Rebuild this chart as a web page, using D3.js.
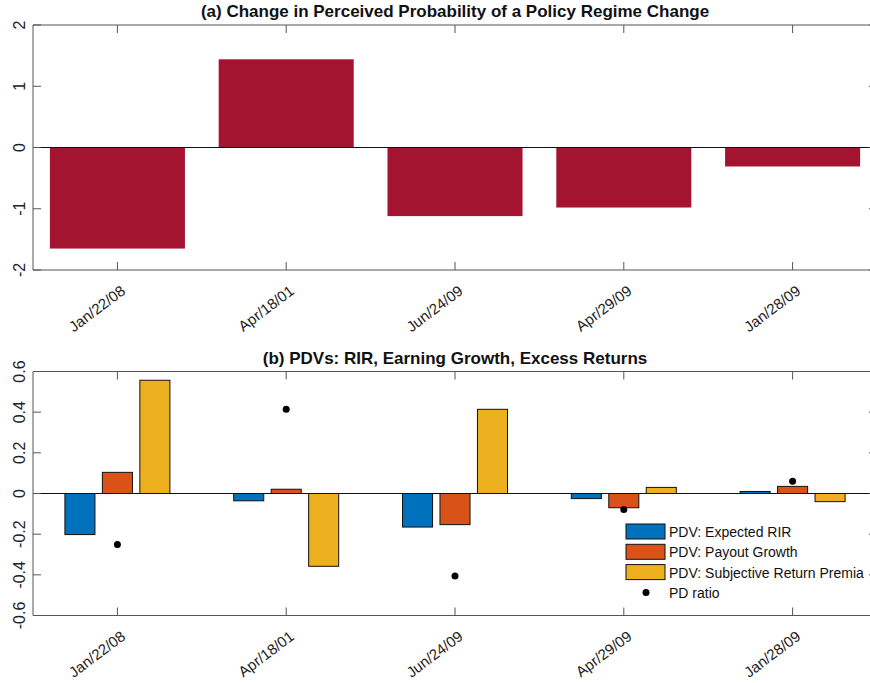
<html>
<head>
<meta charset="utf-8">
<script src="https://d3js.org/d3.v7.min.js"></script>
<style>
body { margin: 0; background: #fff; font-family: 'Liberation Sans', Arial, sans-serif; }
text { font-family: 'Liberation Sans', Arial, sans-serif; }
</style>
</head>
<body>
<svg id="chart" width="870" height="683"></svg>
<script>
// data
var dates = ["Jan/22/08", "Apr/18/01", "Jun/24/09", "Apr/29/09", "Jan/28/09"];
var probChange = [-1.65, 1.44, -1.12, -0.98, -0.31];
var pdvRir = [-0.202, -0.036, -0.165, -0.025, 0.01];
var pdvPayout = [0.104, 0.021, -0.153, -0.07, 0.035];
var pdvPremia = [0.557, -0.358, 0.414, 0.03, -0.04];
var pdRatio = [-0.251, 0.414, -0.406, -0.079, 0.06];
var seriesNames = ["PDV: Expected RIR", "PDV: Payout Growth", "PDV: Subjective Return Premia"];
var ticksTop = [-2, -1, 0, 1, 2];
var ticksBot = [-0.6, -0.4, -0.2, 0, 0.2, 0.4, 0.6];

var axisCol = "#555";
var svg = d3.select("#chart");
var left = 33, right = 877;

var x = d3.scaleLinear().domain([0.5, 5.5]).range([left, right]);

// plain hyphen like the original figure
function fmtA(t){ return String(t).replace("\u2212", "-"); }
function fmtB(t){ return t === 0 ? "0" : d3.format(".1f")(t).replace("\u2212", "-"); }

function drawFrame(g, y, top, bottom, ticks, title, fmt) {
	// box
	g.append("line").attr("x1", left).attr("x2", right).attr("y1", top).attr("y2", top).attr("stroke", axisCol);
	g.append("line").attr("x1", left).attr("x2", right).attr("y1", bottom).attr("y2", bottom).attr("stroke", axisCol);
	g.append("line").attr("x1", left).attr("x2", left).attr("y1", top).attr("y2", bottom).attr("stroke", axisCol);
	g.append("line").attr("x1", right).attr("x2", right).attr("y1", top).attr("y2", bottom).attr("stroke", axisCol);
	// y ticks (inward, both sides)
	ticks.forEach(function(t){
		g.append("line").attr("x1", left).attr("x2", left + 8).attr("y1", y(t)).attr("y2", y(t)).attr("stroke", axisCol);
		g.append("line").attr("x1", right - 8).attr("x2", right).attr("y1", y(t)).attr("y2", y(t)).attr("stroke", axisCol);
		g.append("text")
			.attr("transform", "translate(24.5," + y(t) + ") rotate(-90)")
			.attr("text-anchor", "middle")
			.attr("font-size", 16)
			.attr("fill", "#222")
			.text(fmt(t));
	});
	// x ticks
	dates.forEach(function(d, i){
		var xx = x(i + 1);
		g.append("line").attr("x1", xx).attr("x2", xx).attr("y1", top).attr("y2", top + 8).attr("stroke", axisCol);
		g.append("line").attr("x1", xx).attr("x2", xx).attr("y1", bottom - 8).attr("y2", bottom).attr("stroke", axisCol);
		g.append("text")
			.attr("transform", "translate(" + (xx + 9) + "," + (bottom + 23) + ") rotate(-37)")
			.attr("text-anchor", "end")
			.attr("font-size", 15)
			.attr("fill", "#222")
			.text(d);
	});
	g.append("text")
		.attr("x", (left + right) / 2).attr("y", top - 8)
		.attr("text-anchor", "middle")
		.attr("font-size", 17).attr("font-weight", "bold")
		.attr("fill", "#111")
		.text(title);
}

// ---- panel (a)
var yA = d3.scaleLinear().domain([-2, 2]).range([270, 25]);
var gA = svg.append("g");
var bwA = x(1.8) - x(1);
gA.selectAll("rect").data(probChange).enter().append("rect")
	.attr("x", function(d, i){ return x(i + 1) - bwA / 2; })
	.attr("width", bwA)
	.attr("y", function(d){ return yA(Math.max(d, 0)); })
	.attr("height", function(d){ return Math.abs(yA(d) - yA(0)); })
	.attr("fill", "#A2142F");
gA.append("line").attr("x1", left).attr("x2", right).attr("y1", yA(0)).attr("y2", yA(0)).attr("stroke", "#111");
drawFrame(gA, yA, 25, 270, ticksTop, "(a) Change in Perceived Probability of a Policy Regime Change", fmtA);

// ---- panel (b)
var yB = d3.scaleLinear().domain([-0.6, 0.6]).range([615.5, 371.5]);
var gB = svg.append("g");
var colors = ["#0072BD", "#D95319", "#EDB120"];
var series = [pdvRir, pdvPayout, pdvPremia];
var bwB = x(1.178) - x(1);
var offs = [-0.222, 0, 0.222];
series.forEach(function(s, k){
	gB.selectAll("rect.s" + k).data(s).enter().append("rect")
		.attr("class", "s" + k)
		.attr("x", function(d, i){ return x(i + 1 + offs[k]) - bwB / 2; })
		.attr("width", bwB)
		.attr("y", function(d){ return yB(Math.max(d, 0)); })
		.attr("height", function(d){ return Math.abs(yB(d) - yB(0)); })
		.attr("fill", colors[k])
		.attr("stroke", "#111").attr("stroke-width", 1);
});
gB.append("line").attr("x1", left).attr("x2", right).attr("y1", yB(0)).attr("y2", yB(0)).attr("stroke", "#111");
gB.selectAll("circle").data(pdRatio).enter().append("circle")
	.attr("cx", function(d, i){ return x(i + 1); })
	.attr("cy", function(d){ return yB(d); })
	.attr("r", 3.5).attr("fill", "#000");
drawFrame(gB, yB, 371.5, 615.5, ticksBot, "(b) PDVs: RIR, Earning Growth, Excess Returns", fmtB);

// legend
var leg = gB.append("g").attr("transform", "translate(626,524)");
seriesNames.forEach(function(n, k){
	leg.append("rect").attr("x", 0).attr("y", k * 20.3).attr("width", 39).attr("height", 15)
		.attr("fill", colors[k]).attr("stroke", "#111");
	leg.append("text").attr("x", 43).attr("y", k * 20.3 + 13).attr("font-size", 14).attr("fill", "#111").text(n);
});
leg.append("circle").attr("cx", 20).attr("cy", 3 * 20.3 + 7.5).attr("r", 3.5).attr("fill", "#000");
leg.append("text").attr("x", 43).attr("y", 3 * 20.3 + 13).attr("font-size", 14).attr("fill", "#111").text("PD ratio");
</script>
</body>
</html>
